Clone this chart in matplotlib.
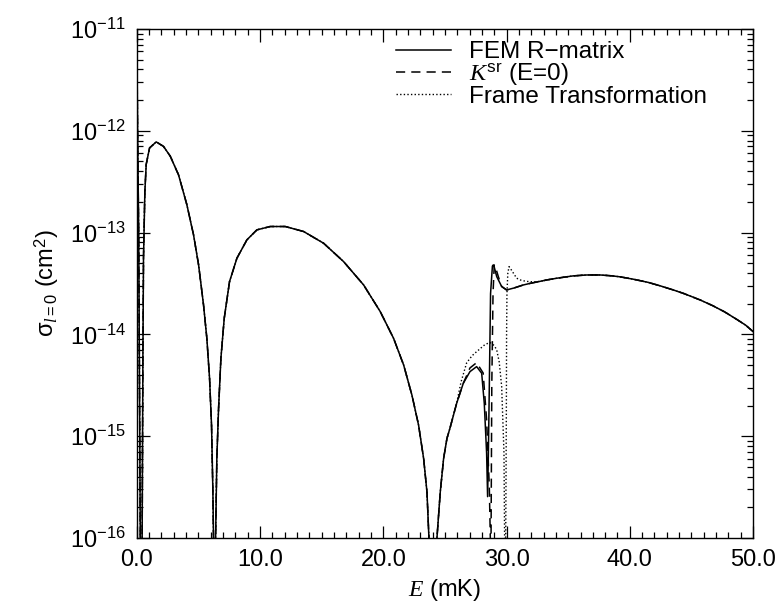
import numpy as np
import matplotlib
matplotlib.use("Agg")
import matplotlib.pyplot as plt
from matplotlib.ticker import MultipleLocator, LogLocator, FormatStrFormatter, NullFormatter

plt.rcParams["font.family"] = ["Liberation Sans", "DejaVu Sans"]
plt.rcParams["mathtext.fontset"] = "custom"
plt.rcParams["mathtext.rm"] = "Liberation Sans"
plt.rcParams["mathtext.sf"] = "Liberation Sans"
plt.rcParams["mathtext.it"] = "Liberation Serif:italic"
plt.rcParams["mathtext.bf"] = "Liberation Sans:bold"

# --- digitized curves: energy (mK) and log10 of cross section (cm^2)
# part shared by all three calculations
E_common = [0.0, 0.06, 0.15, 0.28, 0.34, 0.43, 0.49, 0.54, 0.65, 0.76, 1.03,
            1.57, 2.16, 2.71, 3.38, 4.06, 4.60, 5.01, 5.41, 5.68, 5.90, 6.06,
            6.17, 6.22, 6.30, 6.39, 6.49, 6.63, 6.82, 7.09, 7.52, 8.12, 8.93,
            9.74, 10.82, 12.04, 13.53, 15.15, 16.77, 18.40, 19.75, 20.83,
            21.65, 22.32, 22.86, 23.27, 23.54, 23.70, 24.0, 24.35, 24.62,
            24.89, 25.16, 25.41, 25.95]
logS_common = [-11.1, -12.0, -13.0, -16.0, -18.0, -16.0, -14.24, -13.25,
               -12.6, -12.33, -12.17, -12.11, -12.154, -12.25, -12.433,
               -12.728, -13.023, -13.318, -13.711, -14.039, -14.433, -14.892,
               -15.548, -16.0, -18.0, -16.0, -15.22, -14.73, -14.236, -13.843,
               -13.482, -13.252, -13.072, -12.974, -12.941, -12.941, -12.99,
               -13.105, -13.285, -13.515, -13.777, -14.039, -14.302, -14.597,
               -14.892, -15.22, -15.548, -16.0, -18.0, -16.0, -15.548, -15.22,
               -15.023, -14.92, -14.677]

# high-energy tail shared by all three
E_tail = [33.3, 34.07, 35.4, 36.5, 37.6, 38.5, 39.2, 40.3, 41.5, 42.5, 43.5,
          44.4, 45.7, 46.7, 47.7, 48.7, 49.4, 50.0]
logS_tail = [-13.465, -13.449, -13.426, -13.417, -13.417, -13.425, -13.435,
             -13.459, -13.49, -13.525, -13.563, -13.6, -13.662, -13.717,
             -13.78, -13.855, -13.91, -13.973]

# resonance region, FEM R-matrix
E_fem = [26.49, 27.03, 27.57, 27.98, 28.19, 28.38, 28.46, 28.52, 28.6, 28.7,
         28.85, 28.92, 29.0, 29.2, 29.6, 30.0, 30.6, 31.36, 32.0, 32.7]
logS_fem = [-14.48, -14.366, -14.317, -14.382, -14.677, -15.168, -15.594,
            -15.2, -14.5, -13.6, -13.33, -13.318, -13.34, -13.433, -13.53,
            -13.564, -13.545, -13.515, -13.497, -13.48]

# resonance region, K^sr (E=0)
E_ksr = [26.49, 27.03, 27.57, 28.1, 28.38, 28.6, 28.68, 28.71, 28.74, 28.8,
         28.9, 29.0, 29.15, 29.33, 29.6, 30.0, 30.6, 31.36, 32.0, 32.7]
logS_ksr = [-14.48, -14.33, -14.278, -14.38, -14.84, -15.5, -16.0, -18.0,
            -16.0, -14.5, -13.6, -13.318, -13.36, -13.433, -13.53, -13.564,
            -13.545, -13.515, -13.497, -13.48]

# resonance region, frame transformation
E_ft = [26.3, 26.76, 27.2, 27.57, 28.25, 28.65, 29.0, 29.2, 29.4, 29.6,
        29.79, 29.84, 29.88, 29.93, 29.98, 30.0, 30.03, 30.1, 30.2, 30.4,
        30.82, 31.2, 31.63, 32.2, 32.7]
logS_ft = [-14.47, -14.28, -14.21, -14.17, -14.10, -14.08, -14.11, -14.153,
           -14.27, -14.51, -15.168, -16.0, -18.0, -16.0, -14.8, -14.0, -13.6,
           -13.4, -13.335, -13.37, -13.449, -13.47, -13.48, -13.485, -13.48]


def series(E_mid, logS_mid):
    E = np.concatenate([E_common, E_mid, E_tail])
    s = 10.0 ** np.concatenate([logS_common, logS_mid, logS_tail])
    return E, s


fig = plt.figure(figsize=(7.82, 6.09), dpi=100)
ax = fig.add_axes([0.175, 0.1166, 0.788, 0.836])

E, s = series(E_fem, logS_fem)
ax.plot(E, s, color="black", lw=1.1, ls="-", label="FEM R\u2212matrix")
E, s = series(E_ksr, logS_ksr)
ax.plot(E, s, color="black", lw=1.1, ls=(0, (6, 4)),
        label=r"$K^{\mathrm{sr}}$ (E=0)")
E, s = series(E_ft, logS_ft)
ax.plot(E, s, color="black", lw=1.0, ls=(0, (1, 1.6)),
        label="Frame Transformation")

ax.set_yscale("log")
ax.set_xlim(0, 50)
ax.set_ylim(1e-16, 1e-11)

ax.xaxis.set_major_locator(MultipleLocator(10))
ax.xaxis.set_minor_locator(MultipleLocator(1))
ax.xaxis.set_major_formatter(FormatStrFormatter("%.1f"))
ax.yaxis.set_major_locator(LogLocator(base=10, numticks=10))
ax.yaxis.set_minor_locator(LogLocator(base=10, subs=np.arange(2, 10), numticks=10))
ax.yaxis.set_minor_formatter(NullFormatter())

ax.tick_params(which="both", direction="in", top=True, right=True,
               labelsize=17, width=0.9)
ax.tick_params(which="major", length=9, pad=8)
ax.tick_params(which="minor", length=4)
for sp in ax.spines.values():
    sp.set_linewidth(1.0)

ax.set_xlabel(r"$E$ (mK)", fontsize=17, labelpad=4)
ax.set_ylabel("\u03c3$_{l=0}$ (cm$^2$)", fontsize=17, labelpad=6)

ax.legend(loc="upper left", bbox_to_anchor=(0.405, 0.995), frameon=False,
          fontsize=17.5, handlelength=2.25, handletextpad=0.75,
          labelspacing=-0.08, borderaxespad=0)

fig.savefig("out.png", dpi=100)
